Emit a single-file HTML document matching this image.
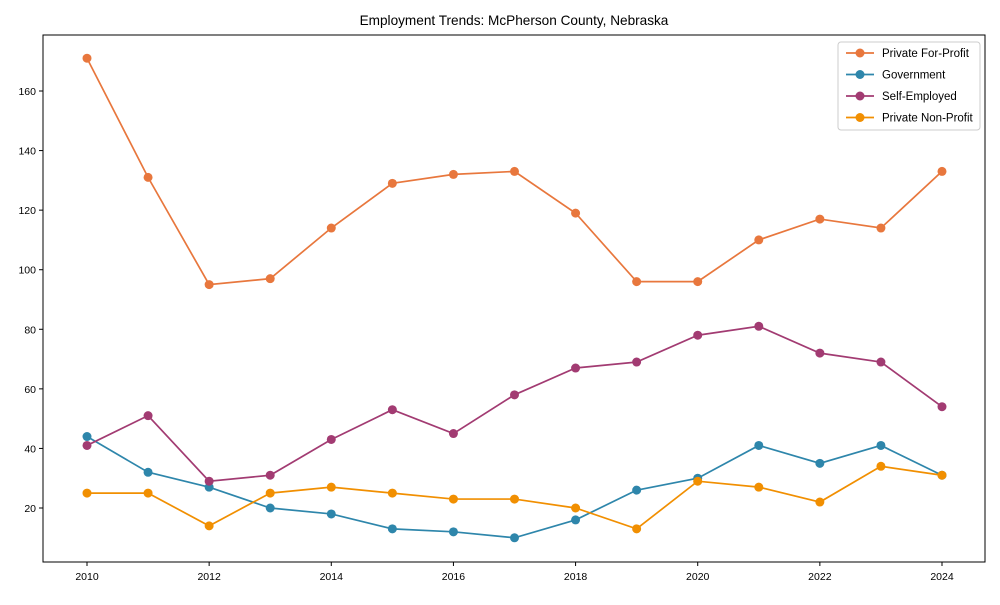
<!DOCTYPE html>
<html><head><meta charset="utf-8"><style>body{margin:0;background:#fff;font-family:"Liberation Sans",sans-serif}</style></head>
<body>
<svg id="c" width="1000" height="600" xmlns="http://www.w3.org/2000/svg"></svg>
<script>
const years=[2010,2011,2012,2013,2014,2015,2016,2017,2018,2019,2020,2021,2022,2023,2024];
const forProfit=[171,131,95,97,114,129,132,133,119,96,96,110,117,114,133];
const government=[44,32,27,20,18,13,12,10,16,26,30,41,35,41,31];
const selfEmployed=[41,51,29,31,43,53,45,58,67,69,78,81,72,69,54];
const nonProfit=[25,25,14,25,27,25,23,23,20,13,29,27,22,34,31];
const xTicks=[2010,2012,2014,2016,2018,2020,2022,2024];
const yTicks=[20,40,60,80,100,120,140,160];
const names=["Private For-Profit","Government","Self-Employed","Private Non-Profit"];
const colors=["#e8773d","#2e86ab","#a23b72","#f18f01"];
const svg=document.getElementById('c');const NS="http://www.w3.org/2000/svg";
const L=43,R=985,T=35,B=562;
const xs=v=>87+(v-2010)*(855/14);
const ys=v=>508-(v-20)*(417/140);
function mk(t,a,p){const e=document.createElementNS(NS,t);for(const k in a)e.setAttribute(k,a[k]);(p||svg).appendChild(e);return e;}
const title=mk('text',{x:514,y:25,'text-anchor':'middle','font-size':13.6,fill:'#000'});title.textContent="Employment Trends: McPherson County, Nebraska";


const frame=mk('rect',{x:L,y:T,width:R-L,height:B-T,fill:'none',stroke:'#000','stroke-width':1});


xTicks.forEach(v=>{const x=xs(v);mk('line',{x1:x,x2:x,y1:B,y2:B+4,stroke:'#000'});
const t=mk('text',{x:x,y:B+18,'text-anchor':'middle','font-size':10.5});t.textContent=v;

});
yTicks.forEach(v=>{const y=ys(v);mk('line',{x1:L-4,x2:L,y1:y,y2:y,stroke:'#000'});
const t=mk('text',{x:L-7,y:y+4,'text-anchor':'end','font-size':10.5});t.textContent=v;

});
[forProfit,government,selfEmployed,nonProfit].forEach((s,i)=>{
const g=mk('g',{});


mk('polyline',{points:s.map((v,j)=>xs(years[j])+','+ys(v)).join(' '),fill:'none',stroke:colors[i],'stroke-width':1.7},g);
s.forEach((v,j)=>{const c=mk('circle',{cx:xs(years[j]),cy:ys(v),r:4.5,fill:colors[i]},g);

});});
const lg=mk('g',{});


mk('rect',{x:838,y:42,width:142,height:88,fill:'#fff',stroke:'#ccc',rx:3},lg);
names.forEach((n,i)=>{const y=53+i*21.5;
mk('line',{x1:846,x2:874,y1:y,y2:y,stroke:colors[i],'stroke-width':1.7},lg);
mk('circle',{cx:860,cy:y,r:4.5,fill:colors[i]},lg);
const t=mk('text',{x:882,y:y+4,'font-size':11.5},lg);t.textContent=n;

});
</script>
</body></html>
